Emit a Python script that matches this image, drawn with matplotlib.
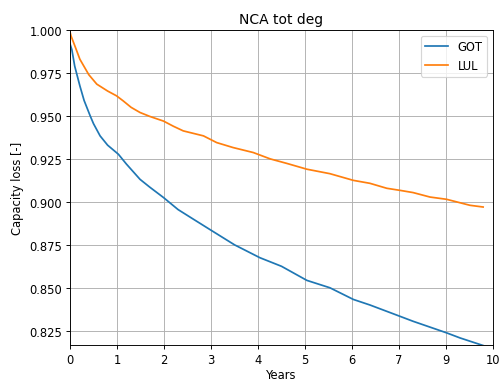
import matplotlib
matplotlib.use("Agg")
import matplotlib.pyplot as plt

got_x = [0.0, 0.04, 0.1, 0.21, 0.3, 0.43, 0.5, 0.64, 0.8, 1.03, 1.2, 1.49, 1.7, 1.99, 2.3, 2.62, 3.0, 3.5, 4.04, 4.5, 5.04, 5.53, 6.03, 6.38, 7.02, 7.3, 8.01, 8.3, 8.79]
got_y = [0.992, 0.9885, 0.979, 0.9675, 0.959, 0.950, 0.9455, 0.9384, 0.933, 0.9277, 0.922, 0.9131, 0.9085, 0.9025, 0.8955, 0.890, 0.8835, 0.875, 0.8675, 0.8625, 0.8543, 0.850, 0.8432, 0.840, 0.8334, 0.8305, 0.8238, 0.8208, 0.8164]

lul_x = [0.0, 0.02, 0.1, 0.21, 0.4, 0.57, 0.8, 0.99, 1.13, 1.3, 1.49, 1.7, 1.99, 2.2, 2.41, 2.84, 3.12, 3.47, 3.9, 4.26, 4.61, 5.04, 5.53, 6.03, 6.38, 6.74, 7.02, 7.3, 7.66, 8.01, 8.51, 8.79]
lul_y = [0.999, 0.9967, 0.991, 0.983, 0.974, 0.9685, 0.9645, 0.9617, 0.9588, 0.955, 0.952, 0.9497, 0.947, 0.944, 0.9413, 0.9384, 0.9345, 0.9316, 0.9287, 0.925, 0.9224, 0.919, 0.9164, 0.9125, 0.9108, 0.9079, 0.9067, 0.9054, 0.9028, 0.9015, 0.898, 0.897]

tick_pos = [0, 1, 2, 3, 4, 5, 6, 7, 8, 9]
tick_labels = ['0', '1', '2', '3', '4', '5', '6', '7', '9', '10']

DPI = 83
fig = plt.figure(figsize=(500 / DPI, 383 / DPI), dpi=DPI)
ax = fig.add_axes([0.14, 0.0966, 0.846, 0.8224])
ax.plot(got_x, got_y, color='#1f77b4', label='GOT')
ax.plot(lul_x, lul_y, color='#ff7f0e', label='LUL')
ax.set_xlim(0, 9)
ax.set_ylim(0.8167, 1.0)
ax.set_xticks(tick_pos)
ax.set_xticklabels(tick_labels)
ax.grid(True)
ax.set_title('NCA tot deg')
ax.set_xlabel('Years', labelpad=2)
ax.set_ylabel('Capacity loss [-]')
ax.legend(loc='upper right')
fig.savefig('out.png', dpi=DPI)
